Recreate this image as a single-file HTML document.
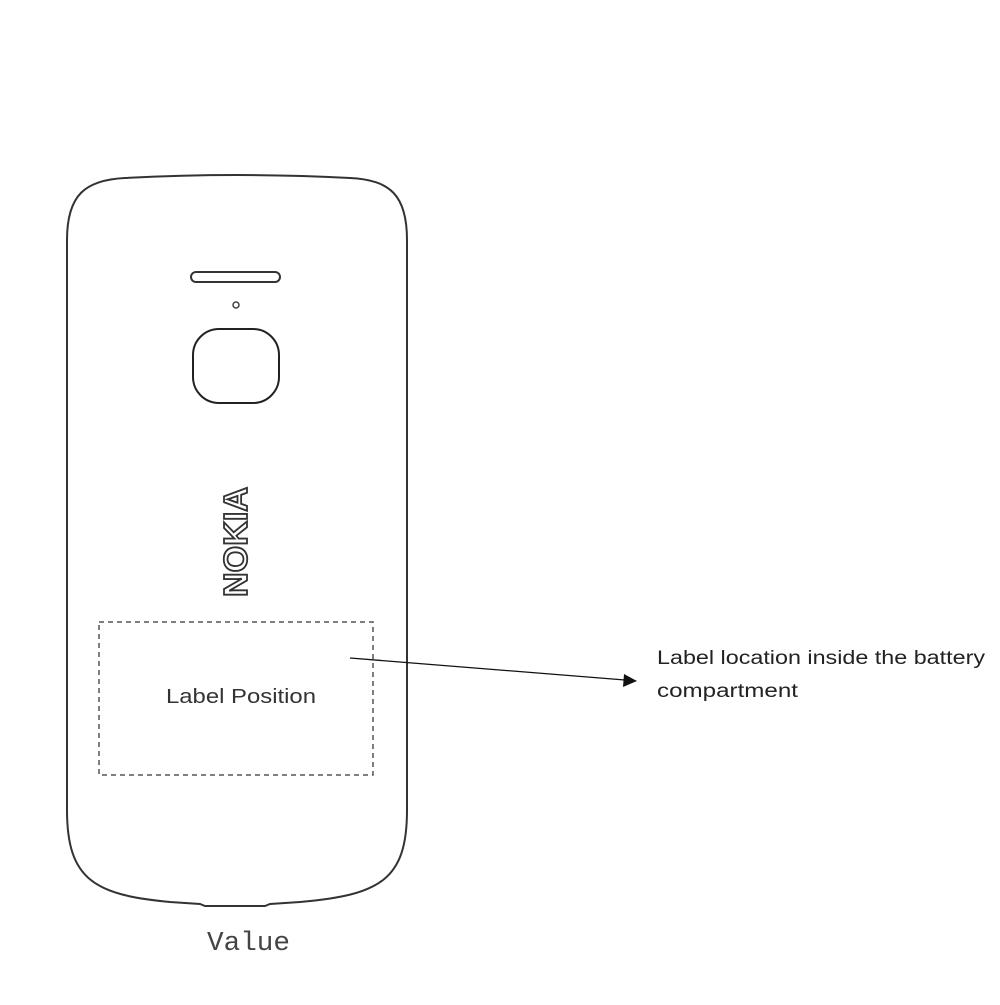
<!DOCTYPE html>
<html><head><style>body{margin:0;background:#fff}</style></head><body>
<svg width="1000" height="1000" viewBox="0 0 1000 1000" xmlns="http://www.w3.org/2000/svg">
<rect width="1000" height="1000" fill="#fff"/>
<path d="M67,240 C67,195 85,180 125,178 Q237,172 350,178 C390,180 407,195 407,240 L407,810 C407,880 380,895 300,902 L270,904 L265,906 L205,906 L200,904 L170,902 C95,895 67,880 67,810 Z" fill="none" stroke="#333" stroke-width="2"/>
<rect x="191" y="272" width="89" height="10" rx="5" fill="none" stroke="#333" stroke-width="2"/>
<circle cx="236" cy="305" r="3" fill="none" stroke="#444" stroke-width="1.5"/>
<rect x="193" y="329" width="86" height="74" rx="26" fill="none" stroke="#222" stroke-width="2"/>
<text transform="translate(247,542) rotate(-90)" text-anchor="middle" font-family="Liberation Sans, sans-serif" font-weight="bold" font-size="33" fill="#fff" stroke="#333" stroke-width="1.8" textLength="110" lengthAdjust="spacingAndGlyphs">NOKIA</text>
<rect x="99" y="622" width="274" height="153" fill="none" stroke="#555" stroke-width="1.5" stroke-dasharray="5,4"/>
<text x="166" y="703" font-family="Liberation Sans, sans-serif" font-size="20" fill="#333" textLength="150" lengthAdjust="spacingAndGlyphs">Label Position</text>
<line x1="350" y1="658" x2="625" y2="680" stroke="#111" stroke-width="1.3"/>
<polygon points="637,681 624,674 623,687" fill="#111"/>
<text x="657" y="664" font-family="Liberation Sans, sans-serif" font-size="19" fill="#222" textLength="328" lengthAdjust="spacingAndGlyphs">Label location inside the battery</text>
<text x="657" y="697" font-family="Liberation Sans, sans-serif" font-size="19" fill="#222" textLength="141" lengthAdjust="spacingAndGlyphs">compartment</text>
<text x="207" y="950" font-family="Liberation Mono, monospace" font-size="27" fill="#444" textLength="83" lengthAdjust="spacingAndGlyphs">Value</text>
</svg>
</body></html>
